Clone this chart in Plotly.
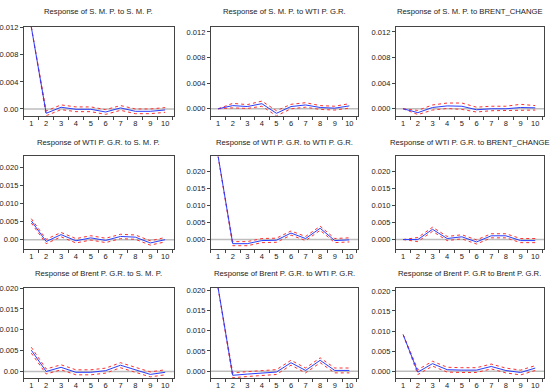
import plotly.graph_objects as go

periods = list(range(1, 11))

titles = [
    "Response of S. M. P. to S. M. P.",
    "Response of S. M. P. to WTI P. G.R.",
    "Response of S. M. P. to BRENT_CHANGE",
    "Response of WTI P. G.R. to S. M. P.",
    "Response of WTI P. G.R. to WTI P. G.R.",
    "Response of WTI P. G.R. to BRENT_CHANGE",
    "Response of Brent P. G.R. to S. M. P.",
    "Response of Brent P. G.R. to WTI P. G.R.",
    "Response of Brent P. G.R to Brent P. G.R.",
]

# central responses
smp_smp = [0.0121, -0.00064, 0.00025, -0.00005, -0.00005, -0.00045, 0.00015, -0.00035, -0.00035, -0.00015]
smp_wti = [0.0, 0.0005, 0.00035, 0.0008, -0.0007, 0.00035, 0.0006, 0.0002, 0.0001, 0.00045]
smp_brent = [0.0, -0.0006, 0.0002, 0.00045, 0.0004, -0.00015, 0.0, 0.0, 0.0002, 0.00015]
wti_smp = [0.0052, -0.0005, 0.0014, -0.0003, 0.0005, -0.0002, 0.0009, 0.0007, -0.0009, 0.0]
wti_wti = [0.0243, -0.0012, -0.0012, -0.0003, -0.0002, 0.0019, 0.0003, 0.0033, -0.0003, -0.0001]
wti_brent = [0.0, 0.0, 0.003, 0.0003, 0.0008, -0.0007, 0.0011, 0.0011, -0.0003, -0.0003]
brent_smp = [0.0051, 0.0, 0.001, -0.0002, -0.0002, 0.0002, 0.0015, 0.0004, -0.0007, -0.0002]
brent_wti = [0.0205, -0.001, -0.0007, -0.0004, -0.0002, 0.0021, 0.0002, 0.0027, 0.0002, 0.0002]
brent_brent = [0.0091, -0.0002, 0.0019, 0.0004, 0.0003, 0.0003, 0.0012, 0.0002, -0.0003, 0.0008]

# upper bands
smp_smp_up = [0.0121, -0.0003, 0.0006, 0.0003, 0.0003, -0.0001, 0.0005, 0.0, 0.0, 0.0002]
smp_wti_up = [0.0, 0.00085, 0.00065, 0.0012, -0.0003, 0.0007, 0.00095, 0.0005, 0.0004, 0.0008]
smp_brent_up = [0.0, -0.00025, 0.0006, 0.0009, 0.0009, 0.00025, 0.0004, 0.0004, 0.0007, 0.0005]
wti_smp_up = [0.0058, 0.0001, 0.002, 0.0003, 0.0011, 0.0004, 0.0015, 0.0013, -0.0003, 0.0006]
wti_wti_up = [0.0243, -0.0006, -0.0006, 0.0003, 0.0004, 0.0025, 0.0009, 0.0039, 0.0003, 0.0005]
wti_brent_up = [0.0, 0.0006, 0.0036, 0.0009, 0.0014, -0.0001, 0.0017, 0.0017, 0.0003, 0.0003]
brent_smp_up = [0.0058, 0.0006, 0.0016, 0.0004, 0.0004, 0.0008, 0.0021, 0.001, -0.0001, 0.0004]
brent_wti_up = [0.0205, -0.0004, -0.0001, 0.0002, 0.0004, 0.0027, 0.0008, 0.0033, 0.0008, 0.0008]
brent_brent_up = [0.0091, 0.0004, 0.0025, 0.001, 0.0009, 0.0009, 0.0018, 0.0008, 0.0003, 0.0014]

# lower bands
smp_smp_lo = [0.0121, -0.001, -0.0001, -0.0004, -0.0004, -0.0008, -0.0002, -0.0007, -0.0007, -0.0005]
smp_wti_lo = [0.0, 0.00015, 0.00005, 0.0004, -0.0011, 0.0, 0.00025, -0.0001, -0.0002, 0.0001]
smp_brent_lo = [0.0, -0.0009, -0.0002, 0.00005, -0.0001, -0.0005, -0.0003, -0.0003, -0.0002, -0.0002]
wti_smp_lo = [0.0046, -0.0011, 0.0008, -0.0009, -0.0001, -0.0008, 0.0003, 0.0001, -0.0015, -0.0006]
wti_wti_lo = [0.0243, -0.0018, -0.0018, -0.0009, -0.0008, 0.0013, -0.0003, 0.0027, -0.0009, -0.0007]
wti_brent_lo = [0.0, -0.0006, 0.0024, -0.0003, 0.0002, -0.0013, 0.0005, 0.0005, -0.0009, -0.0009]
brent_smp_lo = [0.0044, -0.0006, 0.0004, -0.0008, -0.0008, -0.0004, 0.0009, -0.0002, -0.0013, -0.0008]
brent_wti_lo = [0.0205, -0.0016, -0.0013, -0.001, -0.0008, 0.0015, -0.0004, 0.0021, -0.0004, -0.0004]
brent_brent_lo = [0.0091, -0.0008, 0.0013, -0.0002, -0.0003, -0.0003, 0.0006, -0.0004, -0.0009, 0.0002]

centers = [smp_smp, smp_wti, smp_brent, wti_smp, wti_wti, wti_brent, brent_smp, brent_wti, brent_brent]
uppers = [smp_smp_up, smp_wti_up, smp_brent_up, wti_smp_up, wti_wti_up, wti_brent_up, brent_smp_up, brent_wti_up, brent_brent_up]
lowers = [smp_smp_lo, smp_wti_lo, smp_brent_lo, wti_smp_lo, wti_wti_lo, wti_brent_lo, brent_smp_lo, brent_wti_lo, brent_brent_lo]

ticks_a = [0, 0.004, 0.008, 0.012]
ticks_b = [0, 0.005, 0.010, 0.015, 0.020]
tick_text = [
    ["0.00", "0.004", "0.008", "0.012"],
    ["0.000", "0.004", "0.008", "0.012"],
    ["0.000", "0.004", "0.008", "0.012"],
    ["0.00", "0.005", "0.010", "0.015", "0.020"],
    ["0.000", "0.005", "0.010", "0.015", "0.020"],
    ["0.000", "0.005", "0.010", "0.015", "0.020"],
    ["0.00", "0.005", "0.010", "0.015", "0.020"],
    ["0.000", "0.005", "0.010", "0.015", "0.020"],
    ["0.000", "0.005", "0.010", "0.015", "0.020"],
]
tick_vals = [ticks_a] * 3 + [ticks_b] * 6

y_ranges = [
    [-0.00102, 0.01215], [-0.0011, 0.0128], [-0.0011, 0.0128],
    [-0.0027, 0.0230], [-0.0029, 0.0243], [-0.0029, 0.0243],
    [-0.0016, 0.0200], [-0.0017, 0.0205], [-0.0017, 0.0207],
]

W, H = 550, 392
col_px = [(21, 172), (209, 357), (395, 544)]
row_px = [(23, 113), (154, 248), (287, 378)]
title_y_px = [8, 140, 272]

fig = go.Figure()
layout = dict(
    width=W, height=H, margin=dict(l=0, r=0, t=0, b=0),
    paper_bgcolor="white", plot_bgcolor="white", showlegend=False,
    font=dict(family="Liberation Sans, Arial, sans-serif", size=7.5, color="#222"),
)
annotations = []
shapes = []
for i in range(9):
    r, c = divmod(i, 3)
    n = i + 1
    xa = "xaxis" if n == 1 else f"xaxis{n}"
    ya = "yaxis" if n == 1 else f"yaxis{n}"
    xr = "x" if n == 1 else f"x{n}"
    yr = "y" if n == 1 else f"y{n}"
    x0, x1 = col_px[c]
    y0, y1 = row_px[r]
    layout[xa] = dict(
        domain=[x0 / W, x1 / W], anchor=yr, range=[0.5, 10.6],
        tickvals=periods, ticktext=[str(p) for p in periods], ticks="",
        showgrid=False, zeroline=False, showline=True, linecolor="#444", linewidth=1,
        mirror=True, tickfont=dict(size=7.5),
        minor=dict(tick0=0.5, dtick=1, ticks="outside", ticklen=3, tickcolor="#444", showgrid=False),
    )
    layout[ya] = dict(
        domain=[1 - y1 / H, 1 - y0 / H], anchor=xr, range=y_ranges[i],
        tickvals=tick_vals[i], ticktext=tick_text[i], ticks="outside", ticklen=3,
        tickcolor="#444", showgrid=False, zeroline=False, showline=True,
        linecolor="#444", linewidth=1, mirror=True, tickfont=dict(size=7.5),
    )
    shapes.append(dict(type="line", xref=f"{xr} domain", yref=yr, x0=0, x1=1, y0=0, y1=0,
                       line=dict(color="#bdbdbd", width=1.5), layer="below"))
    annotations.append(dict(text=titles[i], x=(x0 + x1) / 2 / W, y=1 - title_y_px[r] / H,
                            xref="paper", yref="paper", showarrow=False,
                            xanchor="center", yanchor="middle", font=dict(size=7.7, color="#222")))
    for band in (uppers[i], lowers[i]):
        fig.add_trace(go.Scatter(x=periods, y=band, mode="lines", xaxis=xr, yaxis=yr,
                                 line=dict(color="#ff3030", width=1, dash="dot"),
                                 hoverinfo="skip", cliponaxis=True))
    fig.add_trace(go.Scatter(x=periods, y=centers[i], mode="lines", xaxis=xr, yaxis=yr,
                             line=dict(color="#2b3cff", width=1), cliponaxis=True))

layout["annotations"] = annotations
layout["shapes"] = shapes
fig.update_layout(**layout)
fig.write_html("out.html", config={"displayModeBar": False},
               post_script="document.body.style.margin='0';document.body.style.overflow='hidden';")
